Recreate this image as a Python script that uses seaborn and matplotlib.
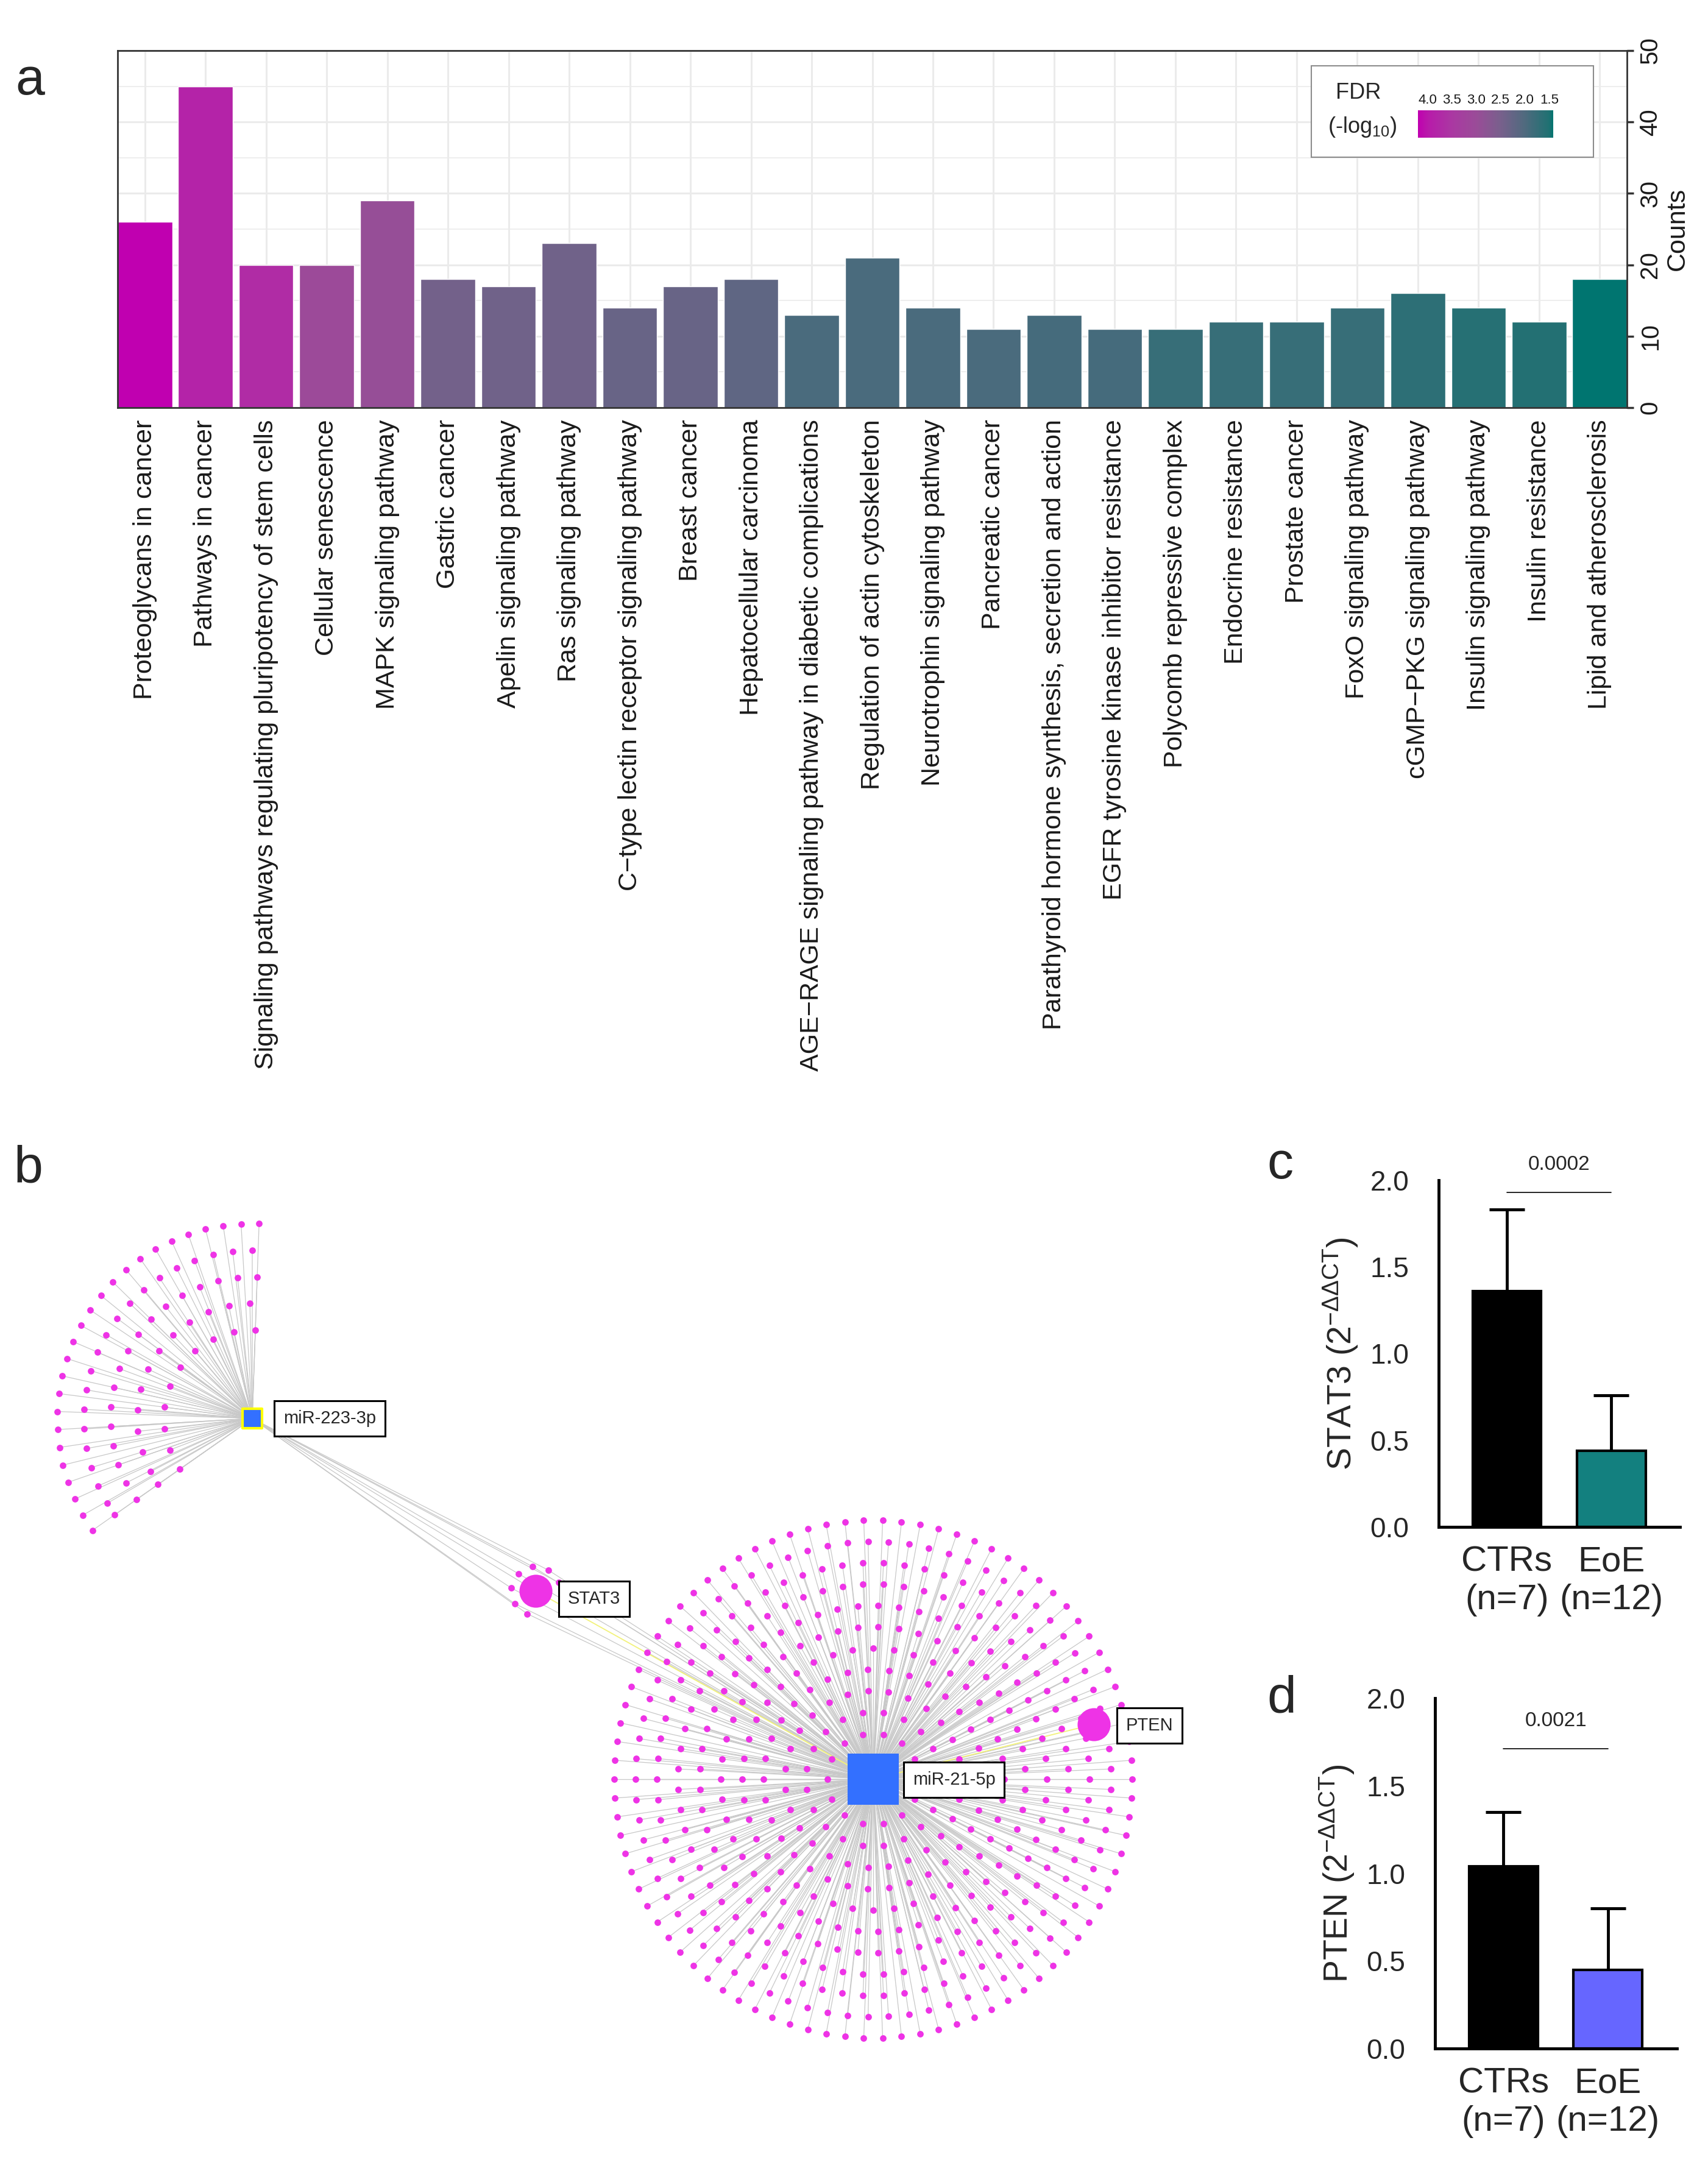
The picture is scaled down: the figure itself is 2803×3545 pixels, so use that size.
import numpy as np
import pandas as pd
import matplotlib
matplotlib.use("Agg")
import matplotlib.pyplot as plt
import seaborn as sns
from matplotlib.colors import LinearSegmentedColormap, Normalize
from matplotlib.cm import ScalarMappable
from matplotlib.collections import LineCollection
from matplotlib.patches import Rectangle
from matplotlib.ticker import MultipleLocator

sns.set_style("white")
plt.rcParams["font.family"] = ["Liberation Sans", "DejaVu Sans"]
plt.rcParams["mathtext.fontset"] = "custom"
plt.rcParams["mathtext.rm"] = "Liberation Sans"
plt.rcParams["mathtext.it"] = "Liberation Sans:italic"
plt.rcParams["mathtext.bf"] = "Liberation Sans:bold"

# ---- panel a: KEGG enrichment ----
pathways = [
    "Proteoglycans in cancer", "Pathways in cancer",
    "Signaling pathways regulating pluripotency of stem cells",
    "Cellular senescence", "MAPK signaling pathway", "Gastric cancer",
    "Apelin signaling pathway", "Ras signaling pathway",
    "C\u2212type lectin receptor signaling pathway", "Breast cancer",
    "Hepatocellular carcinoma",
    "AGE\u2212RAGE signaling pathway in diabetic complications",
    "Regulation of actin cytoskeleton", "Neurotrophin signaling pathway",
    "Pancreatic cancer",
    "Parathyroid hormone synthesis, secretion and action",
    "EGFR tyrosine kinase inhibitor resistance",
    "Polycomb repressive complex", "Endocrine resistance", "Prostate cancer",
    "FoxO signaling pathway", "cGMP\u2212PKG signaling pathway",
    "Insulin signaling pathway", "Insulin resistance",
    "Lipid and atherosclerosis",
]
counts = [26, 45, 20, 20, 29, 18, 17, 23, 14, 17, 18, 13, 21, 14, 11,
          13, 11, 11, 12, 12, 14, 16, 14, 12, 18]
fdr = [4.2, 3.85, 3.7, 3.05, 2.95, 2.45, 2.4, 2.4, 2.3, 2.3, 2.2, 1.95, 1.95,
       1.95, 1.95, 1.9, 1.9, 1.75, 1.75, 1.75, 1.75, 1.65, 1.58, 1.55, 1.42]
fdr_ticks = [4.0, 3.5, 3.0, 2.5, 2.0, 1.5]

# ---- panel b: miRNA-target network (number of targets per miRNA) ----
mir223_targets = 85
mir21_targets = 520
shared_targets = 7      # small nodes sitting with STAT3

# ---- panels c, d: qPCR ----
groups = ["CTRs\n(n=7)", "EoE\n(n=12)"]
stat3_mean = [1.36, 0.44]
stat3_sd = [0.47, 0.32]
pten_mean = [1.04, 0.45]
pten_sd = [0.31, 0.35]
stat3_p = "0.0002"
pten_p = "0.0021"

W, H = 2803, 3545
fig = plt.figure(figsize=(W / 100, H / 100), dpi=100)


def fig_rect(x0, y0, x1, y1):
    return [x0 / W, 1 - y1 / H, (x1 - x0) / W, (y1 - y0) / H]


# colour scale teal -> magenta for -log10 FDR
vmin, vmax = 1.42, 4.2
anchor_vals = [1.42, 1.5, 2.0, 2.5, 3.0, 3.5, 4.0, 4.2]
anchor_cols = ["#007570", "#1f7172", "#4f6a7e", "#78608c", "#9a4c98",
               "#aa38a2", "#b81aaa", "#c000b0"]
cmap = LinearSegmentedColormap.from_list(
    "fdr", [((v - vmin) / (vmax - vmin), c) for v, c in zip(anchor_vals, anchor_cols)])
norm = Normalize(vmin=vmin, vmax=vmax)

ax = fig.add_axes(fig_rect(193, 83, 2670, 669))
df = pd.DataFrame({"pathway": pathways, "count": counts, "fdr": fdr})
bar_colors = [cmap(norm(v)) for v in fdr]
sns.barplot(data=df, x="pathway", y="count", hue="pathway", palette=bar_colors,
            legend=False, width=0.9, saturation=1, ax=ax)
ax.set_axisbelow(True)
ax.yaxis.set_minor_locator(MultipleLocator(5))
ax.grid(which="major", color="#ebebeb", lw=2.2)
ax.grid(which="minor", axis="y", color="#ebebeb", lw=1.2)
ax.set_xlim(-0.45, 24.45)
ax.set_ylim(0, 50)
ax.set_xticks(range(len(pathways)))
ax.set_xticklabels(pathways, rotation=90, ha="center", va="top")
ax.yaxis.tick_right()
ax.yaxis.set_label_position("right")
ax.set_yticks(range(0, 51, 10))
for t in ax.get_yticklabels():
    t.set_rotation(90)
    t.set_va("center")
ax.tick_params(axis="x", length=8, width=2.5, color="#333333", pad=6,
               labelsize=31, labelcolor="#1a1a1a")
ax.tick_params(axis="y", which="major", right=True, length=8, width=2.5,
               color="#333333", pad=6, labelsize=29, labelcolor="#1a1a1a")
ax.tick_params(axis="y", which="minor", length=0)
ax.set_xlabel("")
ax.set_ylabel("Counts", fontsize=31, labelpad=4, color="#1a1a1a")
for s in ax.spines.values():
    s.set_color("#333333")
    s.set_linewidth(2)

# legend box with colour bar
fig.add_artist(Rectangle((2152 / W, 1 - 258 / H), (2615 - 2152) / W, 150 / H,
                         transform=fig.transFigure, fc="white", ec="#8c8c8c",
                         lw=1.5, zorder=5))
fig.text(2229 / W, 1 - 152 / H, "FDR", ha="center", va="center", fontsize=26,
         zorder=7)
fig.text(2236 / W, 1 - 208 / H, "(-log$_{10}$)", ha="center", va="center",
         fontsize=26, zorder=7)
cax = fig.add_axes(fig_rect(2327, 181, 2549, 226))
cax.set_zorder(6)
cb = fig.colorbar(ScalarMappable(norm=norm, cmap=cmap), cax=cax,
                  orientation="horizontal")
cb.outline.set_visible(False)
cax.invert_xaxis()
cb.set_ticks(fdr_ticks)
cb.set_ticklabels([f"{v:.1f}" for v in fdr_ticks])
cax.tick_params(axis="x", direction="in", color="white", length=7, width=2,
                top=True, bottom=True, labeltop=True, labelbottom=False,
                labelsize=16, pad=4, labelcolor="#1a1a1a")


# ---- panel b: network ----
def ring_layout(n, center, r_in, r_out, n_rings, a0=0.0, a1=360.0):
    """Concentric shell layout (like a radial network layout)."""
    radii = np.linspace(r_in, r_out, n_rings)
    per_ring = np.floor(n * radii / radii.sum()).astype(int)
    per_ring[-1] += n - per_ring.sum()
    full = (a1 - a0) >= 360
    pts = []
    for k, (r, c) in enumerate(zip(radii, per_ring)):
        if full:
            ang = a0 + (np.arange(c) + 0.5 * (k % 2)) * 360.0 / c
        else:
            step = (a1 - a0) / max(c - 1, 1)
            ang = np.linspace(a0, a1, c) + (0.3 * step if k % 2 else 0)
            ang = np.clip(ang, a0, a1)
        ang = np.deg2rad(ang)
        pts.append(np.column_stack([center[0] + r * np.cos(ang),
                                    center[1] - r * np.sin(ang)]))
    return np.vstack(pts)


axb = fig.add_axes([0, 0, 2000 / W, (H - 1950) / H])
axb.set_xlim(0, 2000)
axb.set_ylim(H, 1950)
axb.axis("off")

hub223 = np.array([414, 2328])
hub21 = np.array([1433, 2920])
stat3 = np.array([879, 2611])
pten = np.array([1795, 2830])

fan = ring_layout(mir223_targets, hub223, 145, 320, 5, 88, 215)
disk = ring_layout(mir21_targets - 1, hub21, 75, 425, 11)
cluster = ring_layout(shared_targets, stat3, 40, 40, 1, 20, 250)

segs = [[p, hub223] for p in fan] + [[p, hub21] for p in disk]
segs += [[p, hub223] for p in cluster] + [[p, hub21] for p in cluster]
segs += [[stat3, hub223]]
axb.add_collection(LineCollection(segs, colors="#c8c8c8", linewidths=0.9,
                                  zorder=1))
axb.add_collection(LineCollection([[stat3, hub21], [pten, hub21]],
                                  colors="#f2f27a", linewidths=1.3, zorder=1.5))

node_col = "#ee33e6"
small = np.vstack([fan, disk, cluster])
axb.scatter(small[:, 0], small[:, 1], s=60, color=node_col, linewidths=0,
            zorder=2)
axb.scatter([stat3[0], pten[0]], [stat3[1], pten[1]], s=1520, color=node_col,
            linewidths=0, zorder=3)
axb.scatter([hub21[0]], [hub21[1]], s=3600, marker="s", color="#3370ff",
            linewidths=0, zorder=3)
axb.scatter([hub223[0]], [hub223[1]], s=560, marker="s", color="#3370ff",
            edgecolors="#ffff00", linewidths=3, zorder=3)

box = dict(boxstyle="square,pad=0.5", fc="white", ec="black", lw=2.2)
for name, pos, dx, dy in [("miR-223-3p", hub223, 51, 0),
                          ("STAT3", stat3, 53, 13),
                          ("PTEN", pten, 53, 2),
                          ("miR-21-5p", hub21, 65, 1)]:
    axb.text(pos[0] + dx, pos[1] + dy, name, ha="left", va="center",
             fontsize=21, bbox=box, zorder=4)


# ---- panels c and d ----
def qpcr_panel(a, means, sds, colors, ylabel, pval, line_y, text_y):
    sns.barplot(x=groups, y=means, hue=groups, palette=colors, legend=False,
                saturation=1, width=0.66, edgecolor="black", linewidth=3, ax=a)
    a.errorbar([0, 1], means, yerr=[[0, 0], sds], fmt="none", ecolor="black",
               elinewidth=3.5, capsize=21, capthick=3.5, zorder=0.5)
    a.set_xlim(-0.655, 1.66)
    a.set_ylim(0, 2)
    a.set_yticks([0, 0.5, 1.0, 1.5, 2.0])
    a.set_yticklabels(["0.0", "0.5", "1.0", "1.5", "2.0"])
    sns.despine(ax=a)
    for s in ("left", "bottom"):
        a.spines[s].set_linewidth(3.5)
        a.spines[s].set_color("black")
    a.tick_params(axis="y", length=25, width=3.5, color="black", pad=10,
                  labelsize=33)
    a.tick_params(axis="x", length=0, pad=22, labelsize=42)
    a.set_ylabel(ylabel, fontsize=40, labelpad=12)
    a.set_xlabel("")
    a.plot([0, 1], [line_y, line_y], color="black", lw=1.2, clip_on=False)
    a.text(0.5, text_y, pval, ha="center", va="baseline", fontsize=24,
           clip_on=False)


axc = fig.add_axes(fig_rect(2361, 1937, 2757, 2506))
qpcr_panel(axc, stat3_mean, stat3_sd, ["#000000", "#13807f"],
           r"STAT3 (2$^{\mathrm{-\Delta\Delta CT}}$)", stat3_p, 1.93, 2.06)
axd = fig.add_axes(fig_rect(2355, 2787, 2752, 3362))
qpcr_panel(axd, pten_mean, pten_sd, ["#000000", "#6666ff"],
           r"PTEN (2$^{\mathrm{-\Delta\Delta CT}}$)", pten_p, 1.71, 1.84)

for letter, x, y in [("a", 25, 155), ("b", 23, 1940), ("c", 2079, 1934),
                     ("d", 2079, 2810)]:
    fig.text(x / W, 1 - y / H, letter, fontsize=62, va="baseline", ha="left")

fig.savefig("out.png", dpi=100, facecolor="white")
